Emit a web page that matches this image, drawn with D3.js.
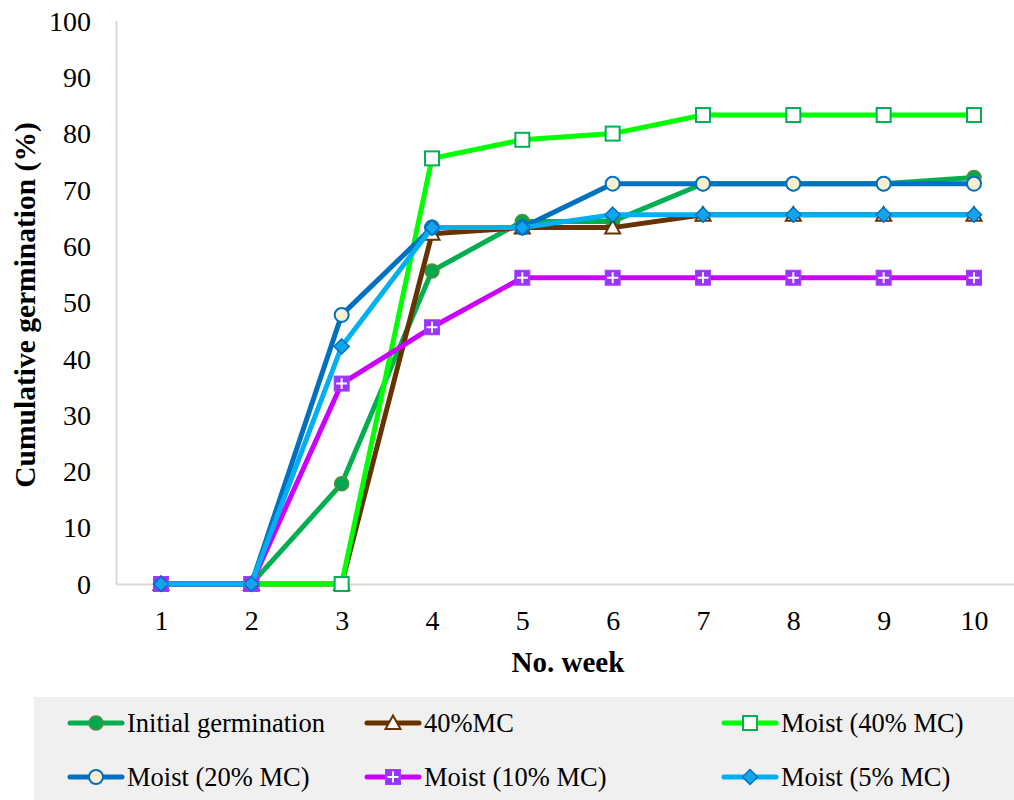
<!DOCTYPE html>
<html><head><meta charset="utf-8">
<script src="https://cdn.jsdelivr.net/npm/d3@7"></script>
<style>body{margin:0;background:#fff}svg{display:block}svg text{font-family:"Liberation Serif","Times New Roman","DejaVu Serif",serif}</style>
</head><body>
<svg id="c" width="1014" height="800"></svg>
<script>
const weeks = [1,2,3,4,5,6,7,8,9,10];
const yTicks = [0,10,20,30,40,50,60,70,80,90,100];
const seriesNames = ["Initial germination","40%MC","Moist (40% MC)","Moist (20% MC)","Moist (10% MC)","Moist (5% MC)"];
const initialGermination = [0,0,17.8,55.6,64.4,64.4,71.1,71.1,71.1,72.2];
const mc40 = [0,0,0,62.2,63.3,63.3,65.6,65.6,65.6,65.6];
const moist40 = [0,0,0,75.6,78.9,80.0,83.3,83.3,83.3,83.3];
const moist20 = [0,0,47.8,63.3,63.3,71.1,71.1,71.1,71.1,71.1];
const moist10 = [0,0,35.6,45.6,54.4,54.4,54.4,54.4,54.4,54.4];
const moist5 = [0,0,42.2,63.3,63.3,65.6,65.6,65.6,65.6,65.6];

const styles = [
  {line:"#00B050", shape:"circle", fill:"#00A84F", stroke:"#5E8A3A"},
  {line:"#663300", shape:"triangle", fill:"#FFFFFF", stroke:"#663300"},
  {line:"#00FF00", shape:"square", fill:"#FFFFFF", stroke:"#00B050"},
  {line:"#0070C0", shape:"circle2", fill:"#FAF0CF", stroke:"#0070C0"},
  {line:"#CC00FF", shape:"plus", fill:"#9933FF", stroke:"#A040FF"},
  {line:"#00B0F0", shape:"diamond", fill:"#12A5EC", stroke:"#0070C0"}
];
const data = [initialGermination, mc40, moist40, moist20, moist10, moist5];

const svg = d3.select("#c");
const x = d3.scalePoint().domain(weeks).range([161, 974]);
const y = d3.scaleLinear().domain([0,100]).range([584, 21]);

svg.append("line").attr("x1",116.5).attr("x2",116.5).attr("y1",21).attr("y2",584.5).attr("stroke","#D9D9D9").attr("stroke-width",2);
svg.append("line").attr("x1",116).attr("x2",1014).attr("y1",584.5).attr("y2",584.5).attr("stroke","#D9D9D9").attr("stroke-width",2);

const yAxis = d3.axisLeft(y).tickValues(yTicks).tickSize(0).tickPadding(0);
const gy = svg.append("g").attr("transform","translate(91,0)").call(yAxis).attr("font-family",null);
gy.select(".domain").remove();
gy.selectAll("text").attr("font-size",28).attr("fill","#000").attr("dy","0.33em");

const xAxis = d3.axisBottom(x).tickSize(0).tickPadding(0);
const gx = svg.append("g").attr("transform","translate(0,621)").call(xAxis).attr("font-family",null);
gx.select(".domain").remove();
gx.selectAll("text").attr("font-size",28).attr("fill","#000").attr("dy","0.33em");

svg.append("text").attr("x",568).attr("y",672).attr("text-anchor","middle")
  .attr("font-size",29).attr("font-weight","bold").text("No. week");
svg.append("text").attr("transform","translate(25,305) rotate(-90)").attr("text-anchor","middle").attr("dy","0.35em")
  .attr("font-size",29.5).attr("font-weight","bold").text("Cumulative germination (%)");

function marker(g, st, cx, cy){
  if(st.shape==="circle"){
    g.append("circle").attr("cx",cx).attr("cy",cy).attr("r",7).attr("fill",st.fill).attr("stroke",st.stroke).attr("stroke-width",1.5);
  } else if(st.shape==="circle2"){
    g.append("circle").attr("cx",cx).attr("cy",cy).attr("r",7).attr("fill",st.fill).attr("stroke",st.stroke).attr("stroke-width",2);
  } else if(st.shape==="triangle"){
    const s=7.5;
    g.append("path").attr("d",`M${cx},${cy-s}L${cx+s},${cy+s*0.8}L${cx-s},${cy+s*0.8}Z`).attr("fill",st.fill).attr("stroke",st.stroke).attr("stroke-width",2);
  } else if(st.shape==="square"){
    g.append("rect").attr("x",cx-7).attr("y",cy-7).attr("width",14).attr("height",14).attr("fill",st.fill).attr("stroke",st.stroke).attr("stroke-width",2);
  } else if(st.shape==="plus"){
    g.append("rect").attr("x",cx-7.5).attr("y",cy-7.5).attr("width",15).attr("height",15).attr("fill",st.fill).attr("stroke",st.stroke).attr("stroke-width",1);
    g.append("path").attr("d",`M${cx-5.5},${cy}H${cx+5.5}M${cx},${cy-5.5}V${cy+5.5}`).attr("stroke","#fff").attr("stroke-width",2);
  } else if(st.shape==="diamond"){
    const s=7.5;
    g.append("path").attr("d",`M${cx},${cy-s}L${cx+s},${cy}L${cx},${cy+s}L${cx-s},${cy}Z`).attr("fill",st.fill).attr("stroke",st.stroke).attr("stroke-width",1.5);
  }
}

const line = d3.line().x((d,i)=>x(weeks[i])).y(d=>y(d));
data.forEach((vals,k)=>{
  const st = styles[k];
  const g = svg.append("g");
  g.append("path").attr("d",line(vals)).attr("fill","none").attr("stroke",st.line).attr("stroke-width",5).attr("stroke-linejoin","round").attr("stroke-linecap","round");
  vals.forEach((v,i)=>marker(g, st, x(weeks[i]), y(v)));
});

svg.append("rect").attr("x",34).attr("y",697).attr("width",980).attr("height",103).attr("fill","#F0F0F0");
const legX = [68, 365, 722];
const legY = [723, 777];
seriesNames.forEach((name,k)=>{
  const lx = legX[k%3], ly = legY[Math.floor(k/3)];
  const g = svg.append("g");
  g.append("line").attr("x1",lx+2).attr("x2",lx+54).attr("y1",ly).attr("y2",ly).attr("stroke",styles[k].line).attr("stroke-width",5).attr("stroke-linecap","round");
  marker(g, styles[k], lx+28, ly);
  g.append("text").attr("x",lx+59).attr("y",ly).attr("dy","0.33em").attr("font-size",26.5).attr("fill","#000").text(name);
});
</script>
</body></html>
